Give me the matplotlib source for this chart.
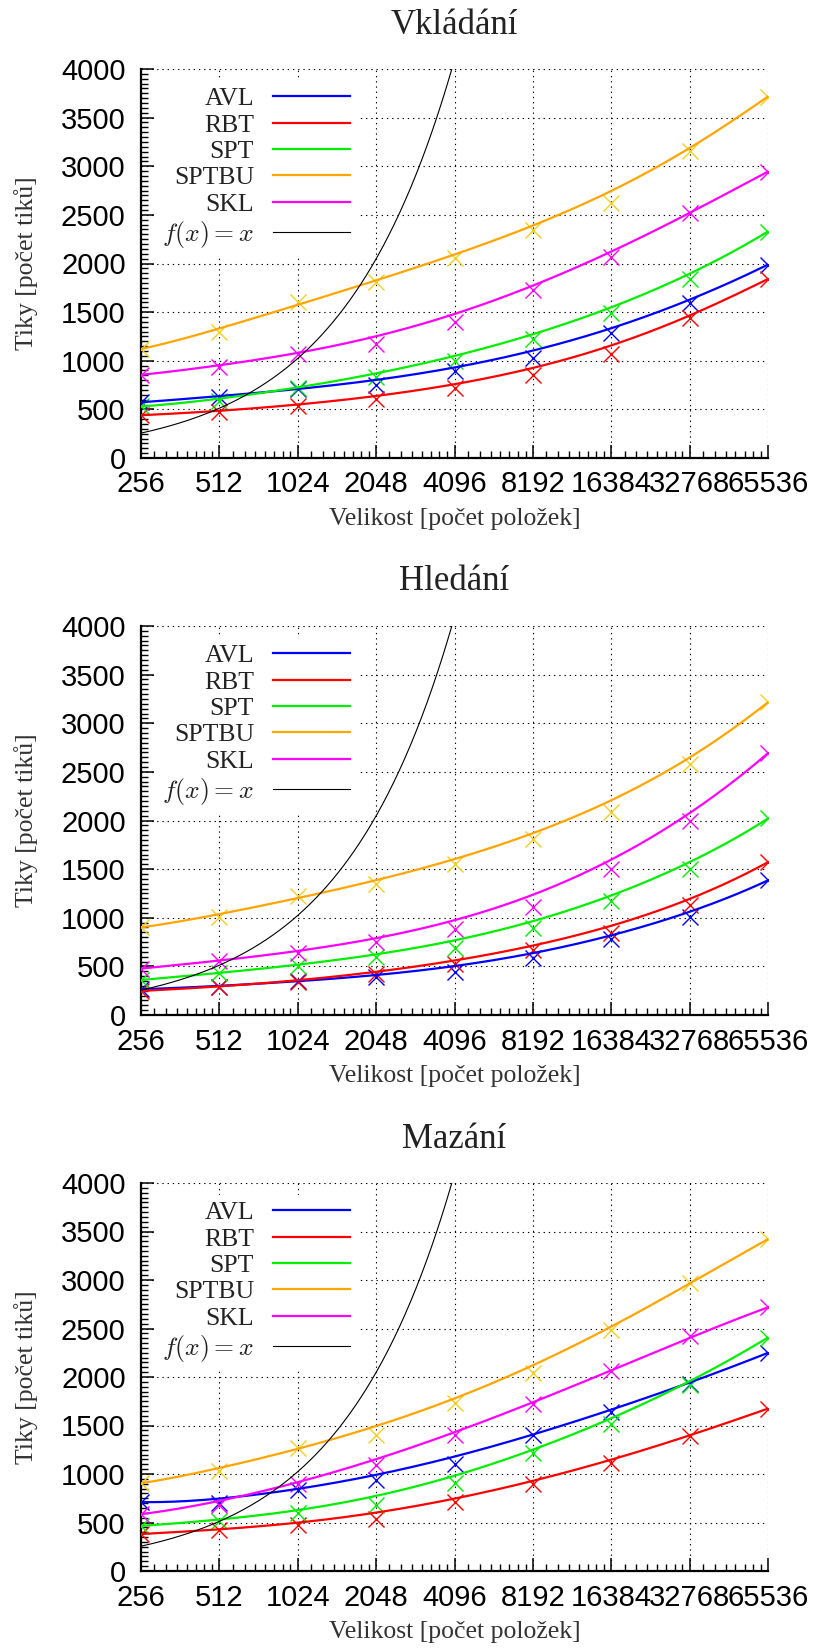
import matplotlib
matplotlib.use("Agg")
import matplotlib.pyplot as plt
from matplotlib.ticker import NullFormatter
import numpy as np
from math import comb

# === Datos ===
velikost = [256, 512, 1024, 2048, 4096, 8192, 16384, 32768, 65536]
series = ["AVL", "RBT", "SPT", "SPTBU", "SKL"]

# Vkládání
avl_ins = [573, 630, 712, 750, 895, 1027, 1281, 1593, 1989]
rbt_ins = [440, 476, 536, 605, 717, 850, 1069, 1444, 1841]
spt_ins = [530, 585, 718, 830, 997, 1221, 1487, 1841, 2329]
sptbu_ins = [1121, 1292, 1600, 1812, 2060, 2343, 2627, 3158, 3717]
skl_ins = [855, 939, 1066, 1173, 1394, 1724, 2071, 2520, 2945]

# Hledání
avl_hle = [265, 290, 346, 389, 442, 583, 777, 1007, 1385]
rbt_hle = [247, 290, 336, 417, 523, 664, 848, 1131, 1572]
spt_hle = [360, 431, 502, 601, 689, 890, 1173, 1502, 2021]
sptbu_hle = [901, 1007, 1219, 1343, 1548, 1809, 2092, 2580, 3216]
skl_hle = [477, 558, 636, 749, 883, 1113, 1502, 1996, 2693]

# Mazání
avl_maz = [711, 696, 832, 941, 1106, 1407, 1637, 1930, 2249]
rbt_maz = [381, 425, 476, 538, 711, 894, 1114, 1392, 1674]
spt_maz = [465, 520, 601, 685, 905, 1216, 1516, 1919, 2407]
sptbu_maz = [905, 1026, 1271, 1407, 1729, 2040, 2480, 2974, 3421]
skl_maz = [586, 685, 894, 1088, 1399, 1722, 2059, 2425, 2718]

grafy = [
    ("Vkládání", [avl_ins, rbt_ins, spt_ins, sptbu_ins, skl_ins]),
    ("Hledání", [avl_hle, rbt_hle, spt_hle, sptbu_hle, skl_hle]),
    ("Mazání", [avl_maz, rbt_maz, spt_maz, sptbu_maz, skl_maz]),
]

line_colors = ["#0000ff", "#ff0000", "#00ee00", "#ffa500", "#ff00ff"]
mark_colors = ["#0000ff", "#ff0000", "#00ee00", "#f2d020", "#ff00ff"]

serif = "Liberation Serif"
sans = "Liberation Sans"
plt.rcParams["mathtext.fontset"] = "cm"


# === Suavizado tipo gnuplot "smooth bezier" (en escala log2) ===
def bezier(xs, ys, n=300):
    u = np.log2(np.asarray(xs, dtype=float))
    v = np.asarray(ys, dtype=float)
    m = len(u) - 1
    t = np.linspace(0, 1, n)
    bu = np.zeros_like(t)
    bv = np.zeros_like(t)
    for i in range(m + 1):
        b = comb(m, i) * t**i * (1 - t) ** (m - i)
        bu += b * u[i]
        bv += b * v[i]
    return 2**bu, bv


fig = plt.figure(figsize=(8.15, 16.48), dpi=100)

W, H = 815.0, 1648.0
ax_left, ax_right = 141, 768
tops = [69, 626, 1183]
bottoms = [458, 1015, 1571]

minor_x = [b * (1 + k / 8) for b in velikost[:-1] for k in range(1, 8)]
fx = np.geomspace(256, 4200, 400)

for (nazev, data), top, bot in zip(grafy, tops, bottoms):
    ax = fig.add_axes([ax_left / W, 1 - bot / H, (ax_right - ax_left) / W, (bot - top) / H])
    ax.set_xscale("log", base=2)

    handles = []
    for name, vals, lc, mc in zip(series, data, line_colors, mark_colors):
        ax.plot(velikost, vals, "x", color=mc, markersize=11, markeredgewidth=1.0, zorder=3)
        bx, by = bezier(velikost, vals)
        h, = ax.plot(bx, by, "-", color=lc, linewidth=1.6, zorder=4, label=name)
        handles.append(h)
    h, = ax.plot(fx, fx, "-", color="black", linewidth=0.8, zorder=4, label=r"$f(x) = x$")
    handles.append(h)

    ax.set_xlim(256, 65536)
    ax.set_ylim(0, 4000)
    ax.set_xticks(velikost)
    ax.set_xticklabels([str(v) for v in velikost])
    ax.set_xticks(minor_x, minor=True)
    ax.xaxis.set_minor_formatter(NullFormatter())
    ax.set_yticks(np.arange(0, 4001, 500))
    ax.set_yticks(np.arange(0, 4001, 50), minor=True)
    ax.yaxis.set_minor_formatter(NullFormatter())

    for s in ["top", "right"]:
        ax.spines[s].set_visible(False)
    for s in ["left", "bottom"]:
        ax.spines[s].set_linewidth(1.6)

    ax.tick_params(which="major", direction="in", length=9.5, width=1.1, labelsize=21, pad=9)
    ax.tick_params(which="minor", direction="in", length=5, width=1.0)
    ax.tick_params(axis="y", which="major", pad=11)
    for lab in ax.get_xticklabels() + ax.get_yticklabels():
        lab.set_fontfamily(sans)

    ax.set_axisbelow(True)
    ax.grid(True, which="major", color="black", linestyle=(0, (1.2, 3.5)), linewidth=0.8)

    ax.text(0.5, 1 + 44 / (bot - top), nazev, transform=ax.transAxes, ha="center", va="center",
            fontsize=25, family=serif, color="#222222")
    ax.set_xlabel("Velikost [počet položek]", fontsize=18.5, family=serif, color="#333333")
    ax.xaxis.label.set_va("center")
    ax.xaxis.set_label_coords(0.5, -61 / (bot - top))
    ax.set_ylabel("Tiky [počet tiků]", fontsize=18.5, family=serif, color="#333333")
    ax.yaxis.label.set_va("center")
    ax.yaxis.set_label_coords(-115 / (ax_right - ax_left), 0.5)

    leg = ax.legend(handles=handles, loc="upper left",
                    bbox_to_anchor=(15 / (ax_right - ax_left), 1 - 12 / (bot - top)),
                    markerfirst=False, frameon=True, fancybox=False, framealpha=1,
                    edgecolor="none", facecolor="white", borderaxespad=0,
                    handlelength=3.0, handletextpad=0.75, labelspacing=0.13,
                    borderpad=0.25, prop={"family": serif, "size": 18.5})
    for t in leg.get_texts():
        t.set_color("#222222")
    leg.set_zorder(5)

fig.savefig("out.png", dpi=100)
